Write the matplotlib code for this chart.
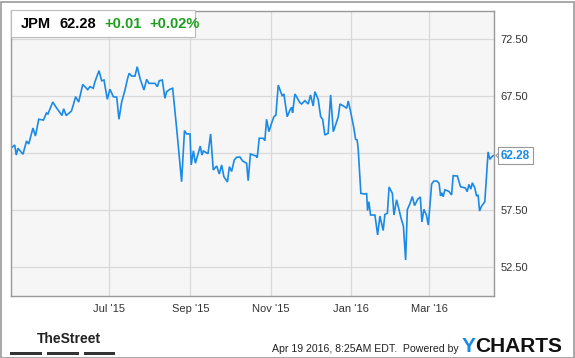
import matplotlib
matplotlib.use("Agg")
import matplotlib.pyplot as plt
from matplotlib.patches import Rectangle
from matplotlib.lines import Line2D
import pandas as pd

plt.rcParams['font.family'] = ['Liberation Sans', 'DejaVu Sans']

# JPM closing prices (days counted from 2015-04-17)
days = [0.2, 3.2, 4.4, 5.7, 9.5, 12.2, 13.9, 17.1, 19.0, 21.5, 25.1, 27.4, 28.5,
        32.2, 34.1, 39.2, 40.5, 42.4, 46.4, 47.8, 49.6, 51.9, 55.0, 58.8, 60.5,
        63.0, 64.3, 67.4, 69.4, 71.2, 73.7, 75.7, 78.3, 80.9, 82.6, 84.7, 87.2,
        89.2, 90.4, 92.3, 94.8, 96.5, 98.6, 101.6, 103.7, 105.4, 110.0, 111.8,
        113.3, 115.6, 117.6, 118.9, 121.4, 123.5, 126.5, 130.3, 132.5, 134.1,
        136.7, 137.6, 139.3, 140.8, 144.5, 145.8, 146.9, 150.4, 152.4, 154.4,
        157.0, 159.0, 160.8, 162.5, 165.2, 166.7, 168.4, 170.4, 172.2, 174.7,
        176.8, 179.8, 181.0, 182.7, 184.8, 186.9, 187.9, 189.4, 192.5, 193.7,
        195.0, 196.8, 198.8, 200.6, 202.1, 203.9, 205.7, 206.9, 208.2, 210.7,
        212.8, 214.1, 214.8, 216.6, 220.4, 221.7, 224.2, 226.7, 228.5, 230.5,
        231.8, 234.3, 236.2, 237.7, 239.4, 241.9, 243.8, 245.8, 247.8, 249.6,
        250.9, 254.7, 256.0, 257.2, 259.0, 261.5, 262.8, 264.0, 264.8, 266.8,
        269.9, 271.2, 271.9, 272.9, 274.2, 277.5, 279.6, 281.3, 283.8, 285.1,
        287.0, 288.3, 290.8, 292.0, 294.0, 297.8, 299.2, 300.9, 302.2, 304.1,
        306.0, 307.7, 310.2, 312.1, 313.3, 314.8, 316.7, 318.2, 319.9, 320.7,
        322.4, 324.7, 326.4, 327.5, 328.3, 329.5, 330.8, 333.8, 335.9, 337.1,
        340.3, 342.7, 346.4, 347.8, 349.1, 350.6, 351.7, 353.6, 354.9, 356.1,
        357.2, 358.6, 361.2, 362.5, 363.7, 365.1, 367.1, 368.1]
prices = [62.91, 63.20, 62.32, 62.91, 62.39, 63.55, 63.29, 64.69, 63.99, 65.46,
          65.39, 66.01, 65.92, 66.97, 66.62, 65.79, 66.38, 65.79, 66.18, 66.71,
          67.44, 66.97, 68.51, 68.06, 68.32, 68.18, 68.75, 69.72, 68.84, 68.90,
          67.21, 68.09, 67.44, 67.39, 65.46, 67.00, 68.03, 69.05, 69.49, 69.25,
          69.25, 70.07, 69.05, 68.03, 68.96, 68.61, 68.61, 68.32, 68.84, 68.90,
          67.30, 67.88, 68.09, 68.18, 64.69, 59.98, 64.47, 64.17, 64.17, 61.45,
          62.70, 61.60, 63.11, 62.32, 62.68, 62.44, 64.17, 61.01, 61.36, 60.66,
          61.45, 60.42, 59.96, 61.30, 60.88, 61.89, 62.12, 62.15, 61.80, 61.60,
          60.07, 62.41, 62.32, 62.24, 62.10, 63.79, 63.79, 63.58, 65.46, 64.37,
          65.11, 65.68, 65.83, 68.46, 67.88, 67.50, 67.68, 65.68, 66.27, 66.51,
          66.03, 67.68, 66.91, 66.80, 67.09, 66.80, 67.59, 66.62, 67.88, 67.21,
          65.68, 65.46, 64.08, 64.23, 67.59, 64.37, 65.04, 65.68, 66.80, 66.54,
          66.42, 67.06, 66.12, 64.67, 63.70, 63.64, 62.82, 58.96, 58.90, 58.96,
          57.44, 58.23, 57.06, 57.06, 55.31, 56.97, 55.70, 57.11, 57.21, 59.52,
          58.96, 57.06, 58.40, 56.62, 56.10, 53.11, 57.54, 58.03, 58.68, 57.89,
          58.46, 58.64, 56.45, 57.56, 57.06, 56.18, 58.64, 59.78, 60.04, 60.04,
          59.84, 58.73, 59.02, 58.67, 59.27, 59.14, 58.82, 60.51, 60.48, 59.54,
          59.43, 59.11, 59.74, 59.34, 59.89, 59.43, 58.73, 58.82, 57.41, 57.81,
          58.23, 60.57, 62.59, 61.95, 62.24, 62.28]

start = pd.Timestamp('2015-04-17')
dates = start + pd.to_timedelta(days, unit='D')

yticks = [52.5, 57.5, 62.5, 67.5, 72.5]
# the 62.50 label is covered by the last-price tag in the original
ytick_labels = ['52.50', '57.50', '', '67.50', '72.50']
xtick_dates = ['2015-07-01', '2015-09-01', '2015-11-01', '2016-01-01', '2016-03-01']
xtick_labels = ["Jul '15", "Sep '15", "Nov '15", "Jan '16", "Mar '16"]

W, H = 575, 358
def fx(x):
    return x / W
def fy(y):
    return 1 - y / H

fig = plt.figure(figsize=(W / 100, H / 100), dpi=100)
ax = fig.add_axes([fx(10.5), fy(295.5), (494 - 10.5) / W, (295.5 - 10.5) / H])
ax.set_facecolor('#f6f6f6')
ax.plot(dates, prices, color='#1a8ae6', lw=1.2, solid_joinstyle='miter')

ax.set_xlim(start, start + pd.Timedelta(days=368.2))
ax.set_ylim(50, 75)
ax.set_yticks(yticks)
ax.set_yticklabels(ytick_labels)
ax.yaxis.tick_right()
ax.set_xticks(pd.to_datetime(xtick_dates))
ax.set_xticklabels(xtick_labels)
ax.tick_params(axis='both', length=0, labelsize=8, labelcolor='#333333')
ax.tick_params(axis='y', pad=4.5)
ax.tick_params(axis='x', pad=6)
ax.grid(True, color='#d9d9d9', lw=0.9)
ax.set_axisbelow(True)
for s in ax.spines.values():
    s.set_color('#999999')
    s.set_linewidth(1.0)

# header box
fig.add_artist(Rectangle((fx(10.5), fy(37)), (195 - 10.5) / W, 27 / H,
                         transform=fig.transFigure, fc='white', ec='#bbbbbb', lw=0.8))
fig.text(fx(21), fy(23.5), 'JPM', fontsize=10.5, fontweight='bold', va='center')
fig.text(fx(60), fy(23.5), '62.28', fontsize=10.5, fontweight='bold', va='center')
fig.text(fx(104), fy(23.5), '+0.01', fontsize=10.5, fontweight='bold', va='center', color='#1e9e1e')
fig.text(fx(149), fy(23.5), '+0.02%', fontsize=10.5, fontweight='bold', va='center', color='#1e9e1e')

# last price label
fig.text(fx(501), fy(155.5), '62.28', fontsize=8.5, fontweight='bold', color='#1a8ae6',
         va='center', bbox=dict(boxstyle='square,pad=0.25', fc='white', ec='#999999', lw=0.8))
fig.add_artist(Line2D([fx(500), fx(496), fx(500)], [fy(151.5), fy(155.5), fy(159.5)],
                      transform=fig.transFigure, color='#999999', lw=0.8))

# footer
fig.text(fx(37), fy(339), 'TheStreet', fontsize=10, fontweight='bold', va='center',
         color='#222222', family=['Liberation Sans Narrow', 'Liberation Sans'])
for x0, x1 in [(10, 42), (47, 79), (84, 115.5)]:
    fig.add_artist(Rectangle((fx(x0), fy(354.5)), (x1 - x0) / W, 3 / H,
                             transform=fig.transFigure, fc='#333333', ec='none'))
fig.text(fx(459), fy(348.5), 'Apr 19 2016, 8:25AM EDT.  Powered by', fontsize=7.6,
         ha='right', va='center', color='#222222')
fig.text(fx(462), fy(347), 'Y', fontsize=15, fontweight='bold', va='center', color='#1a8ae6')
fig.text(fx(475), fy(347), 'CHARTS', fontsize=15, fontweight='bold', va='center', color='#111111')

# outer frame
fig.add_artist(Rectangle((0.5 / W, 0.5 / H), 1 - 2 / W, 1 - 2 / H, transform=fig.transFigure,
                         fc='none', ec='#999999', lw=1.2))

fig.savefig('out.png', dpi=100)
